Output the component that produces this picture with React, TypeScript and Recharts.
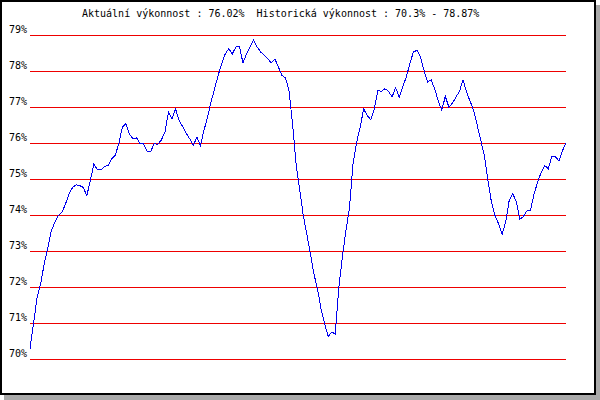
import React from 'react';
import { LineChart, Line, XAxis, YAxis, CartesianGrid } from 'recharts';

const seriesPart1 = [
  70.3, 71.0, 71.73, 72.1, 72.66, 73.1, 73.58, 73.81, 74.0, 74.09,
  74.32, 74.6, 74.78, 74.85, 74.83, 74.78, 74.55, 74.97, 75.43, 75.27,
  75.27, 75.36, 75.39, 75.57, 75.67, 75.99, 76.45, 76.55, 76.27, 76.13,
  76.16, 75.99, 75.99, 75.78, 75.78, 76.0, 75.97,
];
const seriesPart2 = [
  76.1, 76.31, 76.87, 76.69, 76.96, 76.64, 76.47, 76.29, 76.13, 75.94,
  76.18, 75.94, 76.36, 76.73, 77.15, 77.52, 77.89, 78.21, 78.49, 78.63,
  78.49, 78.68, 78.69, 78.24, 78.49, 78.69, 78.87, 78.68, 78.54, 78.45,
  78.35, 78.24, 78.35, 78.12, 77.89, 77.82, 77.45, 76.5, 75.4,
];
const seriesPart3 = [
  74.7, 73.99, 73.48, 72.93, 72.37, 71.96, 71.4, 70.99, 70.64, 70.76,
  70.71, 72.0, 72.84, 73.58, 74.22, 75.43, 76.03, 76.45, 76.96, 76.78,
  76.66, 76.96, 77.47, 77.45, 77.52, 77.45, 77.29, 77.55, 77.29, 77.57,
  77.85, 78.21, 78.54, 78.59, 78.4, 78.03, 77.71, 77.77,
];
const seriesPart4 = [
  77.52, 77.19, 76.92, 77.31, 77.01, 77.12, 77.29, 77.45, 77.77, 77.42,
  77.17, 76.92, 76.5, 76.08, 75.67, 74.97, 74.37, 74.0, 73.77, 73.48,
  73.82, 74.42, 74.6, 74.39, 73.9, 73.97, 74.13, 74.15, 74.6, 74.92,
  75.2, 75.39, 75.3, 75.64, 75.63, 75.52, 75.8, 76.02,
];

const performance = [...seriesPart1, ...seriesPart2, ...seriesPart3, ...seriesPart4];
const yTicks = [70, 71, 72, 73, 74, 75, 76, 77, 78, 79];
const titleText = 'Aktuální výkonnost : 76.02%  Historická výkonnost : 70.3% - 78.87%';

const data = performance.map((v, i) => ({ idx: i, value: v }));

const FONT = '"DejaVu Sans Mono", monospace';

const YTick = (props: any) => {
  const { y, payload } = props;
  return (
    <text x={27} y={y - 3} textAnchor="end" fontFamily={FONT} fontSize={10} fill="#000">
      {payload.value}%
    </text>
  );
};

export default function App() {
  return (
    <div style={{ position: 'absolute', left: 0, top: 0, width: 600, height: 400 }}>
      <style>{`.recharts-cartesian-grid line, .recharts-line-curve { shape-rendering: crispEdges; }`}</style>
      <div
        style={{
          position: 'absolute',
          left: 0,
          top: 0,
          width: 596,
          height: 395,
          boxSizing: 'border-box',
          border: '2px solid #000',
          background: '#fff',
          boxShadow: '4px 5px 0 0 #a9a9a9',
        }}
      />
      <div style={{ position: 'absolute', left: 0, top: 0 }}>
        <LineChart
          width={600}
          height={400}
          data={data}
          margin={{ top: 35.5, right: 34, bottom: 40.5, left: 0 }}
        >
          <CartesianGrid horizontal vertical={false} stroke="#ee0000" strokeWidth={1} />
          <XAxis dataKey="idx" hide />
          <YAxis
            domain={[70, 79]}
            ticks={yTicks}
            interval={0}
            width={30}
            axisLine={false}
            tickLine={false}
            tick={<YTick />}
          />
          <Line
            type="linear"
            dataKey="value"
            stroke="#0000ee"
            strokeWidth={1}
            dot={false}
            isAnimationActive={false}
          />
        </LineChart>
      </div>
      <svg
        width={600}
        height={400}
        style={{ position: 'absolute', left: 0, top: 0, pointerEvents: 'none' }}
      >
        <text x={82} y={17} fontFamily={FONT} fontSize={10} fill="#000" style={{ whiteSpace: 'pre' }} xmlSpace="preserve">
          {titleText}
        </text>
      </svg>
    </div>
  );
}
